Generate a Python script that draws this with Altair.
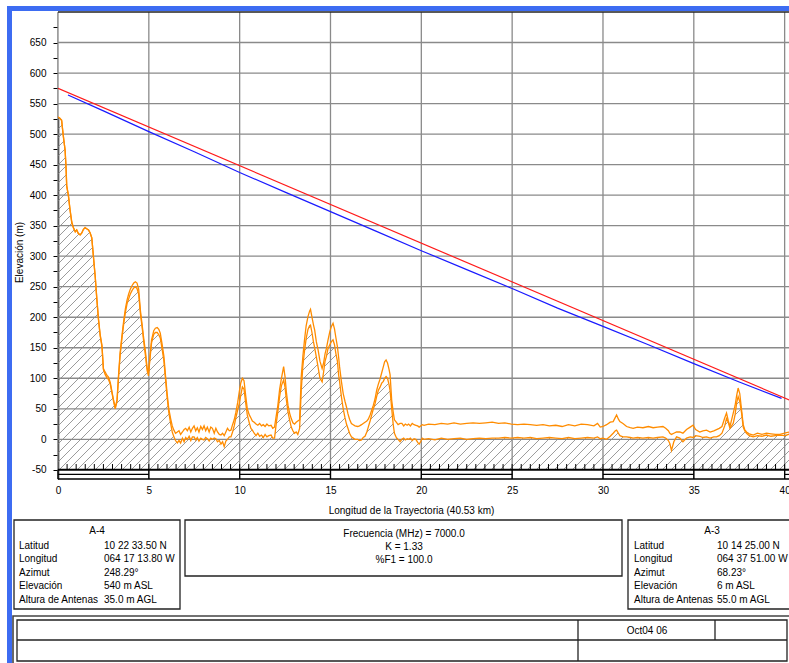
import altair as alt
import numpy as np
import pandas as pd

# ---------------- path profile (distance in km, heights in m) ----------------
dist_km = [
    0.00, 0.10, 0.20, 0.26, 0.32, 0.39, 0.44, 0.48, 0.57, 0.66, 0.76, 0.85, 0.95, 1.03, 1.12, 1.22,
    1.31, 1.40, 1.49, 1.58, 1.68, 1.77, 1.86, 1.95, 2.05, 2.14, 2.23, 2.32, 2.42, 2.50, 2.60, 2.69,
    2.78, 2.88, 2.97, 3.06, 3.15, 3.25, 3.33, 3.42, 3.52, 3.62, 3.71, 3.80, 3.89, 3.98, 4.08, 4.17,
    4.26, 4.35, 4.44, 4.54, 4.63, 4.72, 4.82, 4.91, 4.98, 5.05, 5.15, 5.27, 5.36, 5.46, 5.55, 5.63,
    5.73, 5.83, 5.92, 6.01, 6.10, 6.20, 6.29, 6.38, 6.47, 6.57, 6.66, 6.75, 6.85, 6.94, 7.03, 7.12,
    7.22, 7.31, 7.40, 7.49, 7.58, 7.67, 7.76, 7.86, 7.95, 8.04, 8.13, 8.22, 8.32, 8.41, 8.50, 8.60,
    8.69, 8.78, 8.88, 8.97, 9.06, 9.15, 9.24, 9.33, 9.43, 9.52, 9.61, 9.70, 9.79, 9.89, 9.98, 10.06,
    10.15, 10.24, 10.33, 10.42, 10.53, 10.62, 10.70, 10.80, 10.90, 11.00, 11.10, 11.20, 11.30, 11.40,
    11.50, 11.60, 11.73, 11.82, 11.92, 12.01, 12.10, 12.20, 12.30, 12.42, 12.50, 12.57, 12.66, 12.75,
    12.84, 12.93, 13.02, 13.11, 13.20, 13.30, 13.39, 13.48, 13.57, 13.66, 13.76, 13.85, 13.90, 13.98,
    14.06, 14.13, 14.22, 14.32, 14.42, 14.54, 14.62, 14.70, 14.77, 14.86, 14.96, 15.05, 15.14, 15.22,
    15.30, 15.38, 15.45, 15.50, 15.60, 15.70, 15.80, 15.88, 15.96, 16.05, 16.15, 16.25, 16.35, 16.50,
    16.60, 16.71, 16.80, 16.90, 17.00, 17.08, 17.18, 17.27, 17.36, 17.45, 17.54, 17.63, 17.72, 17.82,
    17.91, 17.98, 18.06, 18.14, 18.22, 18.28, 18.37, 18.45, 18.52, 18.62, 18.72, 18.83, 18.93, 19.03,
    19.12, 19.22, 19.30, 19.40, 19.50, 19.60, 19.70, 19.80, 19.88, 19.96, 20.05, 20.15, 20.40, 20.75,
    21.10, 21.45, 21.80, 22.15, 22.50, 22.85, 23.20, 23.55, 23.90, 24.25, 24.60, 24.95, 25.30, 25.65,
    26.00, 26.35, 26.70, 27.05, 27.40, 27.75, 28.10, 28.45, 28.80, 29.15, 29.50, 29.70, 29.85, 30.00,
    30.20, 30.40, 30.56, 30.68, 30.75, 30.85, 30.93, 31.10, 31.30, 31.50, 31.66, 31.90, 32.20, 32.50,
    32.76, 33.00, 33.30, 33.45, 33.60, 33.68, 33.77, 33.90, 34.05, 34.23, 34.40, 34.60, 34.80, 34.96,
    35.10, 35.33, 35.50, 35.70, 35.90, 36.10, 36.25, 36.40, 36.55, 36.70, 36.80, 36.90, 36.99, 37.08,
    37.17, 37.27, 37.36, 37.44, 37.53, 37.63, 37.72, 37.80, 37.90, 38.05, 38.27, 38.50, 38.75, 39.00,
    39.25, 39.50, 39.74, 40.00, 40.10, 40.30, 40.53,
]

# bare ground
terrain_m = [
    528, 526, 522, 505, 490, 474, 447, 414, 400, 376, 354, 346, 340, 343, 337, 335,
    338, 344, 346, 345, 343, 338, 330, 299, 266, 228, 195, 170, 152, 114, 106, 101,
    98, 90, 76, 62, 50, 62, 100, 138, 165, 190, 208, 222, 230, 238, 244, 248,
    250, 247, 238, 205, 184, 160, 136, 112, 104, 128, 158, 172, 175, 175, 171, 166,
    148, 128, 98, 68, 44, 26, 12, 4, -2, -6, -2, -6, 2, -4, 3, 0,
    5, -2, 4, 4, -1, 3, -3, 2, 0, -1, 3, 1, -3, 2, 0, 2,
    1, -4, -2, -8, -4, -12, -3, 0, 4, 4, 12, 22, 35, 48, 59, 72,
    86, 82, 60, 40, 27, 18, 15, 10, 6, 10, 5, 7, 3, 8,
    4, 6, 7, 2, 2, 25, 45, 70, 88, 97, 85, 65, 45, 32,
    20, 14, 10, 12, 8, 18, 80, 120, 145, 165, 180, 186, 187, 175,
    160, 150, 135, 118, 100, 94, 110, 128, 135, 148, 155, 160, 163, 155,
    140, 128, 105, 95, 70, 50, 35, 25, 18, 10, 4, 2, 0, 0,
    -2, -1, 3, 5, 12, 20, 30, 40, 50, 58, 70, 80, 85, 92,
    95, 100, 103, 100, 90, 80, 50, 25, 10, 3, 0, -4, 0, 2,
    -1, 1, 0, 2, -2, 1, 0, -5, -8, -4, 2, 0, 1, -1,
    2, 0, 1, 2, 0, 1, 2, 1, 2, 2, 3, 2, 3, 2,
    3, 1, 2, 3, 2, 1, 3, 1, 2, 3, 2, 4, 1, 2,
    0, 5, 10, 14, 15, 10, 6, 4, 4, 3, 2, 3, 2, 3,
    2, 3, 4, 2, -2, -7, -18, -4, 4, 2, -4, 2, 4, 3,
    6, 5, 3, 4, 2, 4, 4, 6, 10, 22, 34, 28, 18, 22,
    26, 40, 60, 70, 62, 43, 20, 14, 10, 6, 4, 6, 5, 7,
    5, 6, 7, 6, 7, 9, 10,
]

# ground plus vegetation / obstructions
clutter_m = [
    528, 526, 523, 506, 490, 474, 447, 416, 400, 377, 356, 347, 340, 343, 337, 335,
    338, 344, 347, 345, 343, 338, 330, 300, 266, 230, 197, 172, 154, 116, 110, 105,
    102, 93, 78, 64, 52, 65, 104, 142, 170, 195, 214, 228, 238, 246, 252, 256,
    258, 256, 246, 210, 188, 165, 142, 116, 108, 132, 163, 178, 182, 183, 180, 174,
    156, 136, 104, 74, 50, 34, 22, 15, 10, 12, 14, 8, 12, 16, 18, 14,
    20, 12, 18, 22, 14, 19, 12, 21, 16, 22, 14, 20, 12, 20, 18, 10,
    18, 12, 8, 7, 10, 6, 12, 18, 14, 15, 24, 32, 44, 60, 78, 92,
    100, 96, 72, 50, 40, 35, 30, 28, 25, 23, 26, 22, 24, 21,
    25, 22, 23, 18, 20, 38, 55, 82, 100, 119, 102, 78, 56, 43,
    34, 27, 25, 28, 30, 32, 103, 136, 163, 186, 201, 210, 213, 200,
    188, 179, 160, 146, 128, 116, 125, 140, 148, 162, 176, 185, 190, 181,
    166, 152, 134, 119, 95, 75, 62, 53, 42, 33, 26, 24, 22, 21,
    22, 24, 26, 28, 30, 33, 40, 48, 56, 66, 80, 90, 98, 109,
    119, 127, 130, 125, 115, 106, 64, 45, 32, 28, 24, 26, 26, 22,
    25, 23, 25, 22, 26, 24, 23, 22, 20, 22, 24, 23, 25, 24,
    26, 25, 27, 25, 26, 27, 26, 27, 28, 26, 27, 25, 24, 25,
    24, 23, 24, 22, 23, 21, 24, 22, 25, 24, 22, 26, 20, 21,
    24, 28, 29, 36, 40, 33, 29, 26, 21, 19, 18, 20, 19, 21,
    19, 20, 21, 18, 14, 10, 8, 10, 12, 12, 10, 16, 20, 23,
    16, 12, 14, 15, 12, 14, 16, 18, 21, 35, 43, 30, 21, 32,
    43, 55, 72, 84, 75, 48, 24, 16, 12, 9, 7, 10, 8, 10,
    9, 8, 8, 10, 11, 12, 12,
]

# curved ray (k = 1.33) and straight line of sight between antennas
ray_km = [0.55, 2.5, 5.0, 7.5, 10.0, 12.5, 15.0, 17.5, 20.0, 22.5, 25.0, 27.5, 30.0, 32.5, 35.0, 37.5, 39.83]
ray_m = [564, 538, 504, 471, 437, 405, 373, 341, 309, 278, 247, 215, 185, 155, 124, 94, 67]
los_km = [0.0, 40.53]
los_m = [575, 61]

x_ticks = [0, 5, 10, 15, 20, 25, 30, 35, 40]
y_grid = [0, 50, 100, 150, 200, 250, 300, 350, 400, 450, 500, 550, 600, 650]
y_ticks = list(range(-50, 700, 25))

# ---------------- site / link information ----------------
field_names = ["Latitud", "Longitud", "Azimut", "Elevación", "Altura de Antenas"]
site_a_name = "A-4"
site_a_values = ["10 22 33.50 N", "064 17 13.80 W", "248.29°", "540 m ASL", "35.0 m AGL"]
site_b_name = "A-3"
site_b_values = ["10 14 25.00 N", "064 37 51.00 W", "68.23°", "6 m ASL", "55.0 m AGL"]
link_lines = ["Frecuencia (MHz) = 7000.0", "K = 1.33", "%F1 = 100.0"]
date_text = "Oct04 06"

# ---------------- layout ----------------
OX, OY = 58, 12            # plot origin on the page
W, H = 731, 467            # plot area
X_MAX = 40.24              # distance shown at the right edge of the page
Y_MIN, Y_MAX = -65, 700
FONT = "Liberation Sans"
GRID = "#8a8a8a"
ORANGE = "#ff8c00"
FRAME_BLUE = "#3d6cf2"
INK = "#000000"

xs = alt.Scale(domain=[0, X_MAX], nice=False, zero=False)
ys = alt.Scale(domain=[Y_MIN, Y_MAX], nice=False, zero=False)

x_axis = alt.Axis(
    values=x_ticks, grid=False, domain=False, ticks=False, labelOverlap=False,
    labelPadding=6, labelFont=FONT, labelFontSize=10, labelColor=INK, labelFlush=False,
    title="Longitud de la Trayectoria (40.53 km)", titleFont=FONT, titleFontSize=10,
    titleFontWeight="normal", titleColor=INK, titleX=353, titleY=26,
    titleAlign="center", titleBaseline="top",
)
y_axis = alt.Axis(
    values=y_ticks, grid=False, domain=True, domainColor=INK, domainWidth=1.5,
    ticks=True, tickColor=INK, tickSize=5, tickWidth=1, labelOverlap=False,
    labelExpr="datum.value % 50 == 0 ? '' + datum.value : ''",
    labelPadding=7, labelFont=FONT, labelFontSize=10, labelColor=INK,
    title="Elevación (m)", titleFont=FONT, titleFontSize=10, titleFontWeight="normal",
    titleColor=INK, titleAngle=270, titleX=-39, titleY=240,
    titleAlign="center", titleBaseline="middle",
)


def X(field):
    return alt.X(field, type="quantitative", scale=xs, axis=x_axis)


def Y(field):
    return alt.Y(field, type="quantitative", scale=ys, axis=y_axis)


one = pd.DataFrame({"k": [0]})

profile = pd.DataFrame({"km": dist_km, "terrain": terrain_m, "clutter": clutter_m})
ray = pd.DataFrame({"km": ray_km, "h": ray_m})
los = pd.DataFrame({"km": los_km, "h": los_m})

# diagonal hatching under the ground line (45 degrees on screen, 9 px apart)
km_per_px = X_MAX / W
m_per_px = (Y_MAX - Y_MIN) / H
rise_km = (Y_MAX - (-50)) / m_per_px * km_per_px
starts = np.arange(-rise_km, X_MAX + 0.5, 9 * km_per_px)
hatch_df = pd.DataFrame({"x0": starts, "x1": starts + rise_km, "y0": -50.0, "y1": float(Y_MAX)})

hatch = alt.Chart(hatch_df).mark_rule(color="#707070", strokeWidth=0.7, clip=True).encode(
    x=X("x0"), x2="x1", y=Y("y0"), y2="y1"
)
mask = alt.Chart(profile).mark_area(color="white", opacity=1, clip=True).encode(
    x=X("km"), y=Y("terrain"), y2=alt.datum(Y_MAX)
)
vgrid = alt.Chart(pd.DataFrame({"x": x_ticks})).mark_rule(color=GRID, strokeWidth=1.3).encode(x=X("x"))
hgrid = alt.Chart(pd.DataFrame({"y": y_grid})).mark_rule(color=GRID, strokeWidth=1.3).encode(y=Y("y"))

top_border = alt.Chart(one).mark_rule(color="#222", strokeWidth=1.5).encode(y=alt.value(0))
base_line = alt.Chart(pd.DataFrame({"y": [-50]})).mark_rule(color=INK, strokeWidth=2).encode(y=Y("y"))
bottom_line = alt.Chart(one).mark_rule(color=INK, strokeWidth=1.4).encode(y=alt.value(H))

# distance scale bar: alternating 5 km boxes under the baseline
seg_start = x_ticks[0::2]
seg_df = pd.DataFrame({"a": seg_start, "b": [min(s + 5, 40.53) for s in seg_start], "y": -57.5})
scale_bar = alt.Chart(seg_df).mark_rule(color=INK, strokeWidth=1.2, clip=True).encode(
    x=X("a"), x2="b", y=Y("y")
)
minor_df = pd.DataFrame({"x": np.arange(0.5, X_MAX, 0.5), "y0": -50.0, "y1": -40.5})
minor_ticks = alt.Chart(minor_df).mark_rule(color=INK, strokeWidth=1).encode(x=X("x"), y=Y("y0"), y2="y1")
vgrid_bar = alt.Chart(pd.DataFrame({"x": x_ticks, "y0": -65.0, "y1": -50.0})).mark_rule(
    color=INK, strokeWidth=1.3
).encode(x=X("x"), y=Y("y0"), y2="y1")

clutter_line = alt.Chart(profile).mark_line(color=ORANGE, strokeWidth=1.3, clip=True).encode(
    x=X("km"), y=Y("clutter")
)
terrain_line = alt.Chart(profile).mark_line(color=ORANGE, strokeWidth=1.3, clip=True).encode(
    x=X("km"), y=Y("terrain")
)
ray_line = alt.Chart(ray).mark_line(color="#1a1aff", strokeWidth=1.2, clip=True).encode(x=X("km"), y=Y("h"))
los_line = alt.Chart(los).mark_line(color="#ff1a1a", strokeWidth=1.2, clip=True).encode(x=X("km"), y=Y("h"))


# ---------------- frame, info panels and footer table ----------------
def box(x0, y0, x1, y1, color="#222", width=1.3, fill=None):
    kw = dict(stroke=color, strokeWidth=width)
    if fill:
        kw = dict(fill=fill, strokeWidth=0)
    else:
        kw["fillOpacity"] = 0
    return alt.Chart(one).mark_rect(**kw).encode(
        x=alt.value(x0 - OX), x2=alt.value(x1 - OX), y=alt.value(y0 - OY), y2=alt.value(y1 - OY)
    )


def seg(x0, y0, x1, y1, color="#222", width=1.3):
    return alt.Chart(one).mark_rule(color=color, strokeWidth=width).encode(
        x=alt.value(x0 - OX), x2=alt.value(x1 - OX), y=alt.value(y0 - OY), y2=alt.value(y1 - OY)
    )


def label(text, x, y, align="left", line_height=13.6):
    return alt.Chart(one).mark_text(
        text=text, align=align, baseline="alphabetic", font=FONT, fontSize=10,
        color=INK, lineHeight=line_height,
    ).encode(x=alt.value(x - OX), y=alt.value(y - OY))


frame = [
    box(7, 6, 800, 11, fill=FRAME_BLUE),
    box(7, 6, 12, 700, fill=FRAME_BLUE),
]

panels = [
    box(14, 520, 180, 609),
    label(site_a_name, 97, 533.6, align="center"),
    label(field_names, 19, 548.6),
    label(site_a_values, 104, 548.6),
    box(185, 520, 622, 576),
    label(link_lines, 404, 536.5, align="center", line_height=13.2),
    box(628, 520, 800, 609),
    label(site_b_name, 712, 533.6, align="center"),
    label(field_names, 634, 548.6),
    label(site_b_values, 717, 548.6),
    box(13, 616, 800, 700, color="#444", width=1.6),
    box(17, 620, 787, 661),
    seg(17, 640, 787, 640),
    seg(578, 620, 578, 661),
    seg(715, 620, 715, 640),
    label(date_text, 647, 633.5, align="center"),
]

chart = alt.layer(
    hatch, mask, vgrid, hgrid, vgrid_bar, minor_ticks, base_line, scale_bar, bottom_line, top_border,
    clutter_line, terrain_line, ray_line, los_line, *frame, *panels,
).properties(
    width=W, height=H,
    padding={"left": OX, "top": OY, "right": 0, "bottom": 663 - OY - H},
    autosize=alt.AutoSizeParams(type="none"),
    background="white",
).configure_view(stroke=None)

chart.save("out.html", embed_options={"renderer": "svg", "actions": False})
